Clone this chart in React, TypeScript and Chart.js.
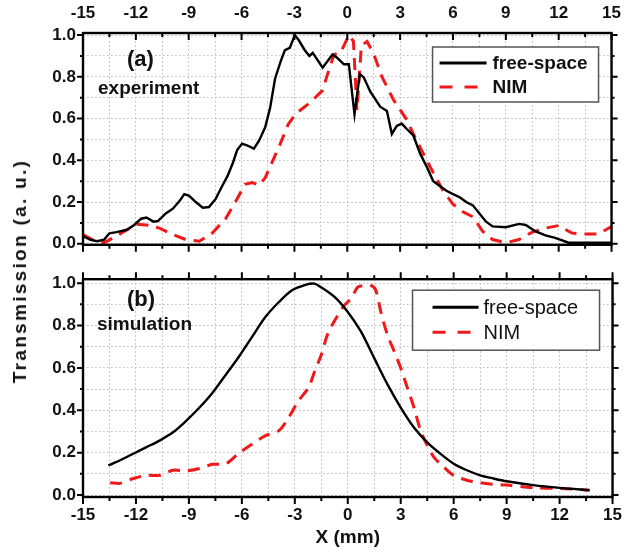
import React, { useEffect, useRef } from 'react';
import { Chart, registerables } from 'chart.js';

Chart.register(...registerables);

// ---------- data ----------
const xTickValues = [-15, -13.5, -12, -10.5, -9, -7.5, -6, -4.5, -3, -1.5, 0, 1.5, 3, 4.5, 6, 7.5, 9, 10.5, 12, 13.5, 15];
const yTickValues = [0, 0.1, 0.2, 0.3, 0.4, 0.5, 0.6, 0.7, 0.8, 0.9, 1.0];

const expFreeX = [-15, -14.6, -14.2, -13.8, -13.5, -13.1, -12.5, -12.1, -11.7, -11.4, -11.0, -10.75, -10.3, -9.9, -9.5, -9.25, -8.97, -8.6, -8.2, -7.85, -7.47, -7.1, -6.8, -6.5, -6.25, -5.97, -5.7, -5.3, -5.0, -4.66, -4.38, -4.1, -3.8, -3.54, -3.26, -2.98, -2.75, -2.43, -2.15, -1.96, -1.4, -0.84, -0.56, -0.19, 0.09, 0.41, 0.71, 0.94, 1.3, 1.87, 2.25, 2.53, 2.81, 3.09, 3.38, 3.75, 4.13, 4.5, 4.88, 5.25, 5.63, 6.0, 6.38, 6.75, 7.13, 7.5, 7.88, 8.25, 9.0, 9.75, 10.13, 10.69, 11.25, 11.8, 12.56, 13.3, 15];
const expFreeY = [0.036, 0.02, 0.012, 0.02, 0.05, 0.056, 0.067, 0.09, 0.12, 0.126, 0.106, 0.109, 0.145, 0.168, 0.207, 0.238, 0.23, 0.2, 0.173, 0.176, 0.215, 0.277, 0.324, 0.386, 0.449, 0.48, 0.472, 0.456, 0.495, 0.558, 0.651, 0.791, 0.869, 0.928, 0.939, 1.0, 0.975, 0.93, 0.9, 0.915, 0.844, 0.907, 0.89, 0.86, 0.86, 0.62, 0.813, 0.797, 0.73, 0.657, 0.636, 0.526, 0.565, 0.576, 0.55, 0.519, 0.433, 0.371, 0.3, 0.277, 0.254, 0.238, 0.223, 0.2, 0.184, 0.145, 0.106, 0.083, 0.079, 0.095, 0.09, 0.059, 0.04, 0.028, 0.005, 0.005, 0.005];

const expNimX = [-15, -14.4, -13.8, -13.3, -12.5, -11.96, -11.4, -10.66, -9.9, -9.16, -8.4, -7.66, -6.9, -6.35, -5.8, -5.4, -5.0, -4.66, -4.29, -3.8, -3.35, -2.9, -2.06, -1.4, -1.12, -0.75, -0.38, 0.09, 0.35, 0.55, 0.8, 1.12, 1.5, 1.97, 2.62, 3.37, 3.75, 4.31, 4.88, 5.44, 6.0, 6.56, 7.13, 7.69, 8.25, 9.0, 9.75, 10.5, 11.25, 12.0, 12.75, 13.5, 14.25, 15];
const expNimY = [0.044, 0.016, 0.005, 0.028, 0.067, 0.093, 0.09, 0.075, 0.044, 0.02, 0.012, 0.051, 0.121, 0.2, 0.285, 0.293, 0.28, 0.316, 0.386, 0.48, 0.573, 0.625, 0.68, 0.735, 0.813, 0.907, 0.915, 1.0, 0.97, 0.64, 0.95, 0.969, 0.91, 0.8, 0.69, 0.595, 0.526, 0.433, 0.34, 0.254, 0.19, 0.153, 0.129, 0.059, 0.02, 0.005, 0.02, 0.056, 0.075, 0.087, 0.051, 0.047, 0.047, 0.083];

const simFreeX = [-13.56, -12.9, -12.15, -11.4, -10.66, -9.9, -9.16, -8.4, -7.66, -6.9, -6.16, -5.41, -4.66, -3.9, -3.16, -2.4, -1.9, -1.5, -0.75, 0, 0.75, 1.5, 2.25, 3, 3.75, 4.5, 5.25, 6, 6.75, 7.5, 8.25, 9, 10.5, 12, 13.7];
const simFreeY = [0.14, 0.164, 0.195, 0.226, 0.257, 0.296, 0.35, 0.413, 0.483, 0.569, 0.654, 0.748, 0.841, 0.911, 0.966, 0.992, 0.998, 0.98, 0.935, 0.864, 0.771, 0.646, 0.522, 0.413, 0.319, 0.249, 0.195, 0.148, 0.117, 0.093, 0.078, 0.065, 0.047, 0.034, 0.023];

const simNimX = [-13.46, -12.9, -12.15, -11.4, -10.66, -9.9, -9.16, -8.4, -7.66, -6.9, -6.16, -5.41, -4.66, -3.9, -3.35, -2.8, -2.23, -1.875, -1.5, -1.125, -0.56, -0.19, 0.19, 0.56, 0.94, 1.31, 1.59, 1.875, 2.25, 2.63, 3.0, 3.375, 3.75, 4.125, 4.5, 4.875, 5.44, 6, 6.75, 7.5, 8.25, 9, 10.5, 12, 13.7];
const simNimY = [0.058, 0.055, 0.078, 0.093, 0.093, 0.117, 0.114, 0.125, 0.145, 0.148, 0.198, 0.241, 0.28, 0.304, 0.366, 0.444, 0.506, 0.584, 0.662, 0.763, 0.849, 0.896, 0.927, 0.981, 0.989, 0.989, 0.966, 0.864, 0.755, 0.678, 0.6, 0.506, 0.413, 0.304, 0.234, 0.179, 0.132, 0.093, 0.07, 0.058, 0.051, 0.047, 0.034, 0.031, 0.023];

const seriesLabels = ['free-space', 'NIM'];
const panelLabels = ['(a)', '(b)'];
const panelNotes = ['experiment', 'simulation'];
const xTitle = 'X (mm)';
const yTitle = 'Transmission (a. u.)';

// ---------- helpers ----------
const FONT = '"Liberation Sans", Arial, Helvetica, sans-serif';
const RED = '#f01818';

const pts = (xs: number[], ys: number[]) => xs.map((x, i) => ({ x, y: ys[i] }));
const isMajorX = (v: number) => Math.abs(Math.round(v / 3) * 3 - v) < 1e-6;
const isMajorY = (v: number) => Math.round(v * 10) % 2 === 0;

type PanelOpts = {
  topInward: boolean;
  label: string;
  note: string;
  legendBold: boolean;
  legend: { dx: number; dy: number; w: number; h: number; lineX: number; lineW: number; row1: number; row2: number; textX: number; fontSize: number };
  labelPos: { x: number; y: number };
  notePos: { x: number; y: number };
};

function decoPlugin(o: PanelOpts) {
  return {
    id: 'panelDeco',
    afterDraw(chart: any) {
      const { ctx, chartArea: a } = chart;
      const xs = chart.scales.x;
      const ys = chart.scales.y;
      ctx.save();
      ctx.strokeStyle = '#000';
      ctx.lineWidth = 2;
      ctx.setLineDash([]);
      ctx.beginPath();
      for (const v of xTickValues) {
        const px = xs.getPixelForValue(v);
        const len = isMajorX(v) ? 7 : 4;
        ctx.moveTo(px, a.top);
        ctx.lineTo(px, o.topInward ? a.top + len : a.top - len);
        ctx.moveTo(px, a.bottom);
        ctx.lineTo(px, a.bottom + len);
      }
      for (const v of yTickValues) {
        const py = ys.getPixelForValue(v);
        const len = isMajorY(v) ? 6 : 3;
        ctx.moveTo(a.left, py);
        ctx.lineTo(a.left - len, py);
        ctx.moveTo(a.right, py);
        ctx.lineTo(a.right + len, py);
      }
      ctx.stroke();
      ctx.lineWidth = 2.4;
      ctx.strokeRect(a.left, a.top, a.right - a.left, a.bottom - a.top);

      // panel annotations
      ctx.fillStyle = '#111';
      ctx.textBaseline = 'middle';
      ctx.textAlign = 'left';
      ctx.font = `bold 22px ${FONT}`;
      ctx.fillText(o.label, o.labelPos.x, o.labelPos.y);
      ctx.font = `bold 19px ${FONT}`;
      ctx.fillText(o.note, o.notePos.x, o.notePos.y);

      // legend
      const L = o.legend;
      const bx = a.right - L.dx - L.w;
      const by = a.top + L.dy;
      ctx.fillStyle = '#fff';
      ctx.fillRect(bx, by, L.w, L.h);
      ctx.strokeStyle = '#555';
      ctx.lineWidth = 1.5;
      ctx.strokeRect(bx, by, L.w, L.h);
      ctx.lineWidth = 3;
      ctx.strokeStyle = '#000';
      ctx.beginPath();
      ctx.moveTo(bx + L.lineX, by + L.row1);
      ctx.lineTo(bx + L.lineX + L.lineW, by + L.row1);
      ctx.stroke();
      ctx.strokeStyle = RED;
      ctx.setLineDash([13, 12]);
      ctx.beginPath();
      ctx.moveTo(bx + L.lineX, by + L.row2);
      ctx.lineTo(bx + L.lineX + L.lineW, by + L.row2);
      ctx.stroke();
      ctx.setLineDash([]);
      ctx.fillStyle = '#111';
      ctx.font = `${o.legendBold ? 'bold ' : ''}${L.fontSize}px ${FONT}`;
      ctx.fillText(seriesLabels[0], bx + L.textX, by + L.row1 + 1);
      ctx.fillText(seriesLabels[1], bx + L.textX, by + L.row2 + 1);
      ctx.restore();
    },
  };
}

function makeConfig(
  freeX: number[], freeY: number[], nimX: number[], nimY: number[],
  yMin: number, yMax: number, top: boolean, o: PanelOpts, tension: number
): any {
  const gridCommon = { color: '#bdbdbd', lineWidth: 1, drawTicks: false };
  return {
    type: 'line',
    data: {
      datasets: [
        { label: seriesLabels[0], data: pts(freeX, freeY), borderColor: '#000', borderWidth: 2.4, pointRadius: 0, tension, fill: false },
        { label: seriesLabels[1], data: pts(nimX, nimY), borderColor: RED, borderWidth: 3, borderDash: [12, 8], pointRadius: 0, tension, fill: false },
      ],
    },
    options: {
      responsive: false,
      maintainAspectRatio: false,
      animation: false,
      events: [],
      layout: { padding: top ? { left: 0, top: 0, right: 13, bottom: 13 } : { left: 0, top: 15, right: 13, bottom: 0 } },
      plugins: { legend: { display: false }, tooltip: { enabled: false } },
      scales: {
        x: {
          type: 'linear',
          position: top ? 'top' : 'bottom',
          min: -15,
          max: 15,
          afterBuildTicks: (s: any) => { s.ticks = xTickValues.map((value) => ({ value })); },
          afterFit: (s: any) => { s.height = top ? 33 : 59; },
          ticks: {
            autoSkip: false,
            maxRotation: 0,
            padding: top ? 9 : 8,
            color: '#111',
            font: { family: FONT, size: 17, weight: 'bold' },
            callback: (v: number) => (isMajorX(v) ? String(Math.round(v)) : ''),
          },
          grid: gridCommon,
          border: { display: false, dash: [1.5, 2.5] },
          title: top
            ? { display: false }
            : { display: true, text: xTitle, color: '#111', font: { family: FONT, size: 19, weight: 'bold' }, padding: { top: 0, bottom: 7 } },
        },
        y: {
          type: 'linear',
          position: 'left',
          min: yMin,
          max: yMax,
          afterBuildTicks: (s: any) => { s.ticks = yTickValues.map((value) => ({ value })); },
          afterFit: (s: any) => { s.width = 83; },
          ticks: {
            autoSkip: false,
            padding: 7,
            color: '#111',
            font: { family: FONT, size: 17, weight: 'bold' },
            callback: (v: number) => (isMajorY(v) ? v.toFixed(1) : ''),
          },
          grid: gridCommon,
          border: { display: false, dash: [1.5, 2.5] },
        },
      },
    },
    plugins: [decoPlugin(o)],
  };
}

function Panel(props: { top: boolean; height: number; offset: number }) {
  const ref = useRef<HTMLCanvasElement | null>(null);
  useEffect(() => {
    if (!ref.current) return;
    const o: PanelOpts = props.top
      ? {
          topInward: true,
          label: panelLabels[0],
          note: panelNotes[0],
          legendBold: true,
          legend: { dx: 13, dy: 14, w: 166, h: 55, lineX: 7, lineW: 47, row1: 16, row2: 40, textX: 60, fontSize: 19 },
          labelPos: { x: 127, y: 60 },
          notePos: { x: 98, y: 89 },
        }
      : {
          topInward: false,
          label: panelLabels[1],
          note: panelNotes[1],
          legendBold: false,
          legend: { dx: 13, dy: 11, w: 187, h: 60, lineX: 20, lineW: 46, row1: 17, row2: 42, textX: 71, fontSize: 20 },
          labelPos: { x: 127, y: 38 },
          notePos: { x: 97, y: 63 },
        };
    const cfg = props.top
      ? makeConfig(expFreeX, expFreeY, expNimX, expNimY, -0.005, 1.01, true, o, 0)
      : makeConfig(simFreeX, simFreeY, simNimX, simNimY, -0.0093, 1.0187, false, o, 0.3);
    const chart = new Chart(ref.current, cfg);
    return () => chart.destroy();
  }, []);
  return (
    <canvas
      ref={ref}
      width={630}
      height={props.height}
      style={{ position: 'absolute', left: 0, top: props.offset, width: 630, height: props.height }}
    />
  );
}

export default function App() {
  return (
    <div style={{ position: 'absolute', left: 0, top: 0, width: 630, height: 556, background: '#fff', overflow: 'hidden' }}>
      <Panel top={true} height={262} offset={0} />
      <Panel top={false} height={294} offset={262} />
      <div
        style={{
          position: 'absolute',
          left: 20,
          top: 271,
          transform: 'translate(-50%, -50%) rotate(-90deg)',
          whiteSpace: 'nowrap',
          fontFamily: FONT,
          fontWeight: 'bold',
          fontSize: 19,
          letterSpacing: 2.3,
          color: '#111',
        }}
      >
        {yTitle}
      </div>
    </div>
  );
}
